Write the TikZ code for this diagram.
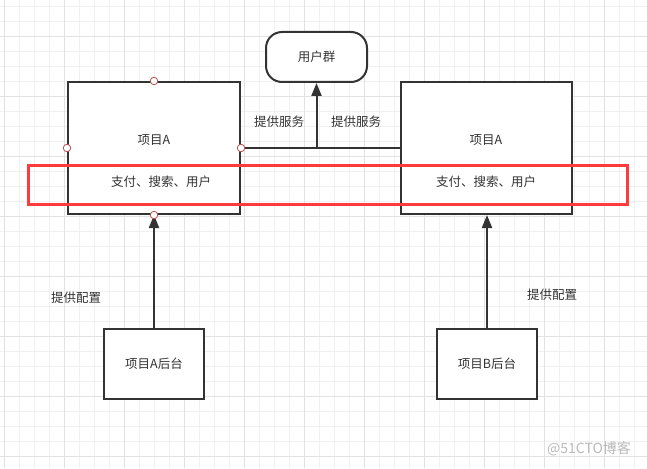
\documentclass[tikz,border=0pt]{standalone}
\usepackage{fontspec}
\setmainfont{Noto Sans CJK SC}
\usetikzlibrary{arrows.meta}
\definecolor{ink}{HTML}{333333}
\definecolor{gridminor}{HTML}{F0F0F0}
\definecolor{gridmajor}{HTML}{E2E2E2}
\definecolor{hlred}{HTML}{FF3B3B}
\definecolor{portred}{HTML}{B85450}
\tikzset{
  box/.style={draw=ink, line width=2pt, fill=white, inner sep=0pt},
  txt/.style={text=ink, font=\fontsize{12.5}{14}\selectfont, inner sep=0pt},
  arr/.style={draw=ink, line width=2pt, -{Triangle[length=13pt,width=10pt]}},
  port/.style={circle, draw=portred, line width=0.8pt, fill=white, inner sep=0pt, minimum size=7.5pt},
}
\begin{document}
\begin{tikzpicture}[x=1pt,y=-1pt]
\useasboundingbox (0,0) rectangle (647,468);
\fill[white] (0,0) rectangle (647,468);
% grid
\foreach \i in {0,...,43} {
  \draw[gridminor, line width=0.8pt] ({4.3+15*\i},0) -- ({4.3+15*\i},468);
}
\foreach \i in {0,...,31} {
  \draw[gridminor, line width=0.8pt] (0,{6+15*\i}) -- (647,{6+15*\i});
}
\foreach \i in {0,...,10} {
  \draw[gridmajor, line width=0.8pt] ({4.3+60*\i},0) -- ({4.3+60*\i},468);
}
\foreach \i in {0,...,7} {
  \draw[gridmajor, line width=0.8pt] (0,{36+60*\i}) -- (647,{36+60*\i});
}
% boxes
\node[box, minimum width=172pt, minimum height=132pt] (pa) at (154,148) {};
\node[box, minimum width=171pt, minimum height=132pt] (pb) at (486.5,148) {};
\node[box, rounded corners=16pt, minimum width=101pt, minimum height=50pt] (user) at (316.5,57) {};
\node[box, minimum width=100pt, minimum height=70pt] (ba) at (154,364) {};
\node[box, minimum width=100pt, minimum height=70pt] (bb) at (487,364) {};
% texts
\node[txt] (userT) at (user.center) {用户群};
\node[txt] (paT) at (154,140) {项目A};
\node[txt] (paS) at (161,182) {支付、搜索、用户};
\node[txt] (pbT) at (486,140) {项目A};
\node[txt] (pbS) at (486,182) {支付、搜索、用户};
\node[txt] (baT) at (ba.center) {项目A后台};
\node[txt] (bbT) at (bb.center) {项目B后台};
\node[txt] (svc1) at (279,122) {提供服务};
\node[txt] (svc2) at (356,122) {提供服务};
\node[txt] (cfg1) at (76,298) {提供配置};
\node[txt] (cfg2) at (552,295) {提供配置};
% connectors
\coordinate (j) at (316.5,148);
\draw[ink, line width=1.6pt] (pa.east) -- (pb.west);
\draw[arr] (j) -- (user.south);
\draw[arr] (ba.north) -- (pa.south);
\draw[arr] (bb.north) -- (bb.north |- pb.south);
% ports
\node[port] (p1) at (pa.north) {};
\node[port] (p2) at (pa.west) {};
\node[port] (p3) at (pa.east) {};
\node[port] (p4) at (pa.south) {};
% highlight
\node[draw=hlred, line width=3pt, minimum width=599pt, minimum height=39pt, inner sep=0pt] (hl) at (327.5,184.5) {};
% watermark
\node[text=gray!55, font=\fontsize{14}{16}\selectfont, inner sep=0pt] (wm) at (589,449) {@51CTO博客};
\end{tikzpicture}
\end{document}
